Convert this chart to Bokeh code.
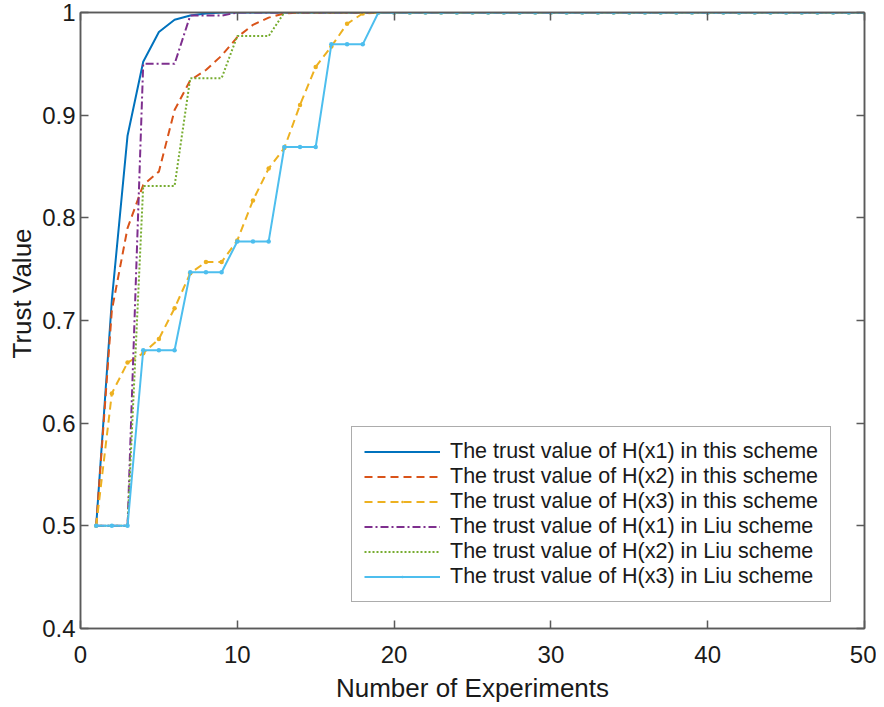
from bokeh.plotting import figure
from bokeh.models import Range1d, FixedTicker, LinearAxis, NumeralTickFormatter, Title
from bokeh.embed import file_html
from bokeh.resources import INLINE

# ---------------- data ----------------
x = list(range(1, 51))
x_ticks = [0, 10, 20, 30, 40, 50]
y_ticks = [0.4, 0.5, 0.6, 0.7, 0.8, 0.9, 1.0]

labels = [
    "The trust value of H(x1) in this scheme",
    "The trust value of H(x2) in this scheme",
    "The trust value of H(x3) in this scheme",
    "The trust value of H(x1) in Liu scheme",
    "The trust value of H(x2) in Liu scheme",
    "The trust value of H(x3) in Liu scheme",
]

h1_this = [0.5, 0.72, 0.88, 0.952, 0.981, 0.993, 0.997, 0.999, 1.0, 1.0,
           1.0, 1.0, 1.0, 1.0, 1.0, 1.0, 1.0, 1.0, 1.0, 1.0,
           1.0, 1.0, 1.0, 1.0, 1.0, 1.0, 1.0, 1.0, 1.0, 1.0,
           1.0, 1.0, 1.0, 1.0, 1.0, 1.0, 1.0, 1.0, 1.0, 1.0,
           1.0, 1.0, 1.0, 1.0, 1.0, 1.0, 1.0, 1.0, 1.0, 1.0]
h2_this = [0.5, 0.71, 0.79, 0.832, 0.845, 0.905, 0.934, 0.944, 0.958, 0.976,
           0.988, 0.995, 0.999, 1.0, 1.0, 1.0, 1.0, 1.0, 1.0, 1.0,
           1.0, 1.0, 1.0, 1.0, 1.0, 1.0, 1.0, 1.0, 1.0, 1.0,
           1.0, 1.0, 1.0, 1.0, 1.0, 1.0, 1.0, 1.0, 1.0, 1.0,
           1.0, 1.0, 1.0, 1.0, 1.0, 1.0, 1.0, 1.0, 1.0, 1.0]
h3_this = [0.5, 0.629, 0.659, 0.668, 0.682, 0.712, 0.746, 0.757, 0.757, 0.778,
           0.817, 0.848, 0.868, 0.910, 0.947, 0.967, 0.989, 0.999, 1.0, 1.0,
           1.0, 1.0, 1.0, 1.0, 1.0, 1.0, 1.0, 1.0, 1.0, 1.0,
           1.0, 1.0, 1.0, 1.0, 1.0, 1.0, 1.0, 1.0, 1.0, 1.0,
           1.0, 1.0, 1.0, 1.0, 1.0, 1.0, 1.0, 1.0, 1.0, 1.0]
h1_liu = [0.5, 0.5, 0.5, 0.95, 0.95, 0.95, 0.997, 0.997, 0.997, 1.0,
          1.0, 1.0, 1.0, 1.0, 1.0, 1.0, 1.0, 1.0, 1.0, 1.0,
          1.0, 1.0, 1.0, 1.0, 1.0, 1.0, 1.0, 1.0, 1.0, 1.0,
          1.0, 1.0, 1.0, 1.0, 1.0, 1.0, 1.0, 1.0, 1.0, 1.0,
          1.0, 1.0, 1.0, 1.0, 1.0, 1.0, 1.0, 1.0, 1.0, 1.0]
h2_liu = [0.5, 0.5, 0.5, 0.831, 0.831, 0.831, 0.936, 0.936, 0.936, 0.977,
          0.977, 0.977, 1.0, 1.0, 1.0, 1.0, 1.0, 1.0, 1.0, 1.0,
          1.0, 1.0, 1.0, 1.0, 1.0, 1.0, 1.0, 1.0, 1.0, 1.0,
          1.0, 1.0, 1.0, 1.0, 1.0, 1.0, 1.0, 1.0, 1.0, 1.0,
          1.0, 1.0, 1.0, 1.0, 1.0, 1.0, 1.0, 1.0, 1.0, 1.0]
h3_liu = [0.5, 0.5, 0.5, 0.671, 0.671, 0.671, 0.747, 0.747, 0.747, 0.777,
          0.777, 0.777, 0.869, 0.869, 0.869, 0.969, 0.969, 0.969, 1.0, 1.0,
          1.0, 1.0, 1.0, 1.0, 1.0, 1.0, 1.0, 1.0, 1.0, 1.0,
          1.0, 1.0, 1.0, 1.0, 1.0, 1.0, 1.0, 1.0, 1.0, 1.0,
          1.0, 1.0, 1.0, 1.0, 1.0, 1.0, 1.0, 1.0, 1.0, 1.0]

colors = ["#0072BD", "#D95319", "#EDB120", "#7E2F8E", "#77AC30", "#4DBEEE"]

FONT = "Liberation Sans"
AX = "#5a5a5a"
TXT = "#1a1a1a"

p = figure(frame_width=784, frame_height=616,
           x_range=Range1d(0, 50), y_range=Range1d(0.4, 1.0),
           output_backend="svg", toolbar_location=None,
           min_border_left=80, min_border_right=12,
           min_border_top=12, min_border_bottom=75,
           background_fill_color="white", border_fill_color="white")
p.outline_line_color = AX
p.outline_line_width = 1.5
p.grid.visible = False

for ax in (p.xaxis[0], p.yaxis[0]):
    ax.major_tick_in = 8
    ax.major_tick_out = 0
    ax.minor_tick_line_color = None
    ax.major_tick_line_color = AX
    ax.major_tick_line_width = 1.5
    ax.axis_line_color = AX
    ax.axis_line_width = 1.5
    ax.major_label_text_font = FONT
    ax.major_label_text_font_size = "24px"
    ax.major_label_text_color = TXT
    ax.axis_label_text_font = FONT
    ax.axis_label_text_font_size = "26px"
    ax.axis_label_text_font_style = "normal"
    ax.axis_label_text_color = TXT

p.xaxis.ticker = FixedTicker(ticks=x_ticks)
p.yaxis.ticker = FixedTicker(ticks=y_ticks)
p.yaxis.formatter = NumeralTickFormatter(format="0.[0]")
p.xaxis.major_label_standoff = 17
p.yaxis.major_label_standoff = 5
p.xaxis.axis_label = "Number of Experiments"
p.xaxis.axis_label_standoff = 7

# mirrored tick marks on top and right (no labels)
for loc, tick in (("above", x_ticks), ("right", y_ticks)):
    a = LinearAxis(ticker=FixedTicker(ticks=tick))
    a.major_tick_in = 8
    a.major_tick_out = 0
    a.minor_tick_line_color = None
    a.major_tick_line_color = AX
    a.major_tick_line_width = 1.5
    a.axis_line_color = AX
    a.axis_line_width = 1.5
    a.major_label_text_font_size = "1px"
    a.major_label_text_color = None
    a.major_label_standoff = 0
    p.add_layout(a, loc)

ylab = Title(text="Trust Value", align="left", offset=270,
             text_font=FONT, text_font_size="26px", text_font_style="normal",
             text_color=TXT, standoff=6)
p.add_layout(ylab, "left")

series = [h1_this, h2_this, h3_this, h1_liu, h2_liu, h3_liu]
dashes = ["solid", "8 5", "8 5", "8 3 2 3", "2 2", "solid"]
for i, ys in enumerate(series):
    p.line(x, ys, line_color=colors[i], line_width=2, line_dash=dashes[i],
           legend_label=labels[i])
    if i in (2, 5):
        p.scatter(x, ys, marker="dot", size=18, fill_color=colors[i],
                  line_color=colors[i], line_width=2, legend_label=labels[i])

lg = p.legend[0]
lg.location = (271, 26)
lg.label_text_font = FONT
lg.label_text_font_size = "21.5px"
lg.label_text_color = TXT
lg.glyph_width = 76
lg.glyph_height = 25
lg.label_height = 25
lg.label_standoff = 10
lg.spacing = 0
lg.padding = 12
lg.margin = 0
lg.border_line_color = AX
lg.border_line_width = 1.5
lg.background_fill_alpha = 1.0

open("out.html", "w").write(file_html(p, INLINE))
